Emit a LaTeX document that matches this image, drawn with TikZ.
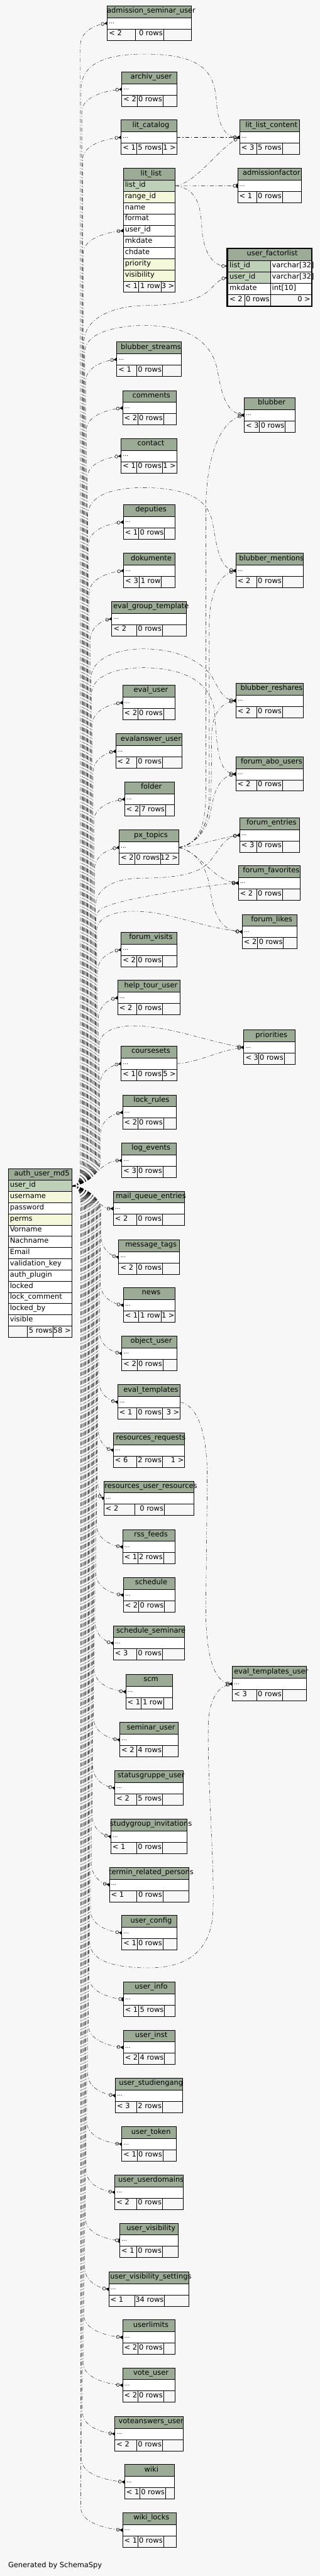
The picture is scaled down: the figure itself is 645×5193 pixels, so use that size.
\documentclass[tikz,border=0pt]{standalone}
\usepackage{fontspec}
\setmainfont{DejaVu Sans}
\usetikzlibrary{arrows.meta}
\definecolor{bgc}{HTML}{F7F7F7}
\definecolor{hdrc}{HTML}{9CAB96}
\definecolor{pkc}{HTML}{BED1B8}
\definecolor{idxc}{HTML}{F4F7DA}
\newcommand\fs{\fontsize{14.5}{16}\selectfont}
\newcommand\fsd{\fontsize{11.5}{13}\selectfont}
\pgfdeclarelayer{bglayer}
\pgfdeclarelayer{edgelayer}
\pgfsetlayers{bglayer,edgelayer,main}
\tikzset{
  cell/.style={draw=black,line width=0.9pt},
  ttl/.style={font=\fs,inner sep=0pt,outer sep=0pt,text height=9pt,text depth=4pt},
  rowbox/.style={draw=black,line width=0.9pt,minimum height=22.6pt,inner xsep=3.5pt,inner ysep=0pt,outer sep=0pt,anchor=north west,align=left,font=\fs,text height=9pt,text depth=4pt},
  dotrow/.style={rowbox,font=\fsd,text height=2pt,text depth=0pt,fill=white,minimum height=22.8pt},
  rel/.style={line width=0.5pt,dash pattern=on 8pt off 4pt on 1.5pt off 4pt,-{Circle[open,length=7pt,width=7pt,line width=0.7pt] Triangle[reversed,length=6pt,width=7pt]}},
  relone/.style={line width=0.5pt,dash pattern=on 8pt off 4pt on 1.5pt off 4pt,-{Circle[open,length=7pt,width=7pt,line width=0.7pt] Rectangle[length=2.5pt,width=8pt]}},
}
\begin{document}
\begin{tikzpicture}[x=1pt,y=-1pt]
\useasboundingbox (0,0) rectangle (645,5193);
\begin{pgfonlayer}{bglayer}
\fill[bgc] (0,0) rectangle (645,5193);
\end{pgfonlayer}

% ---------- simple tables ----------
\foreach \nm/\ti/\xl/\xr/\yt/\fa/\fb/\tA/\tB/\tC in {
adm/admission\_seminar\_user/216.4/385.4/11.7/273.5/329.5/{< 2}/{0 rows}/{},
arch/archiv\_user/245.6/356.2/144.7/276.4/328.3/{< 2}/{0 rows}/{},
litcat/lit\_catalog/244.3/356.2/241.7/275.6/327.4/{< 1}/{5 rows}/{1 >},
llc/lit\_list\_content/483.3/603.5/241.7/517.5/569.3/{< 3}/{5 rows}/{},
admf/admissionfactor/479.2/607.6/339.3/517.5/569.3/{< 1}/{0 rows}/{},
blstr/blubber\_streams/235.3/365.3/689.3/275.6/327.4/{< 1}/{0 rows}/{},
comm/comments/247.2/355.4/787.3/277.7/329.5/{< 2}/{0 rows}/{},
blub/blubber/492.4/595.2/801.7/523.2/575.1/{< 3}/{0 rows}/{},
cont/contact/244.3/356.2/884/275.6/327.4/{< 1}/{0 rows}/{1 >},
dep/deputies/248.5/352.5/1017.3/279.7/331.6/{< 1}/{0 rows}/{},
dok/dokumente/249.3/352.5/1115.3/280.5/325.4/{< 3}/{1 row}/{},
egt/eval\_group\_template/225.4/375.6/1212.3/275.6/327.4/{< 2}/{0 rows}/{},
blm/blubber\_mentions/475.5/611.7/1115.3/517.5/569.3/{< 2}/{0 rows}/{},
blr/blubber\_reshares/475.5/611.7/1377.3/517.5/569.3/{< 2}/{0 rows}/{},
evu/eval\_user/247.2/353.4/1381.3/277.7/329.5/{< 2}/{0 rows}/{},
eau/evalanswer\_user/233.2/367.3/1479.3/275.6/327.4/{< 2}/{0 rows}/{},
fabo/forum\_abo\_users/475.5/611.7/1525.3/517.5/569.3/{< 2}/{0 rows}/{},
fold/folder/251.3/351.3/1576/281.8/333.6/{< 2}/{7 rows}/{},
fent/forum\_entries/483.3/603.5/1648.3/517.5/569.3/{< 3}/{0 rows}/{},
pxt/px\_topics/240.2/360.3/1673.3/271.5/323.7/{< 2}/{0 rows}/{12 >},
ffav/forum\_favorites/480.5/605.5/1745/517.5/569.3/{< 2}/{0 rows}/{},
flik/forum\_likes/488.3/599.3/1843.3/519.5/571.4/{< 2}/{0 rows}/{},
fvis/forum\_visits/244.3/356.2/1879.3/275.6/327.4/{< 2}/{0 rows}/{},
htu/help\_tour\_user/237.3/363.2/1976.3/275.6/327.4/{< 2}/{0 rows}/{},
prio/priorities/491.6/595.2/2076.3/521.6/573/{< 3}/{0 rows}/{},
cset/coursesets/244.3/356.2/2109/275.6/327.4/{< 1}/{0 rows}/{5 >},
lock/lock\_rules/247.2/355.4/2207.3/277.7/329.5/{< 2}/{0 rows}/{},
loge/log\_events/245.6/355.4/2304.3/276.4/328.3/{< 3}/{0 rows}/{},
mqe/mail\_queue\_entries/228.3/372.3/2401.3/275.6/327.4/{< 2}/{0 rows}/{},
mtag/message\_tags/239.4/361.6/2499.3/275.6/327.4/{< 2}/{0 rows}/{},
news/news/248.5/353.4/2596/279.7/324.6/{< 1}/{1 row}/{1 >},
obj/object\_user/245.6/356.2/2693.3/276.4/328.3/{< 2}/{0 rows}/{},
evt/eval\_templates/237.3/363.2/2791.3/275.6/327.4/{< 1}/{0 rows}/{3 >},
rreq/resources\_requests/228.3/372.3/2888.3/275.6/327.4/{< 6}/{2 rows}/{1 >},
rur/resources\_user\_resources/209.4/391.2/2985.7/271.5/331.2/{< 2}/{0 rows}/{},
rss/rss\_feeds/247.2/353.4/3083.3/277.7/329.5/{< 1}/{2 rows}/{},
sch/schedule/248.5/353.4/3180.3/279.7/331.6/{< 2}/{0 rows}/{},
schs/schedule\_seminare/228.3/372.3/3277.3/275.6/327.4/{< 3}/{0 rows}/{},
scm/scm/253.4/347.6/3375.3/284.2/329.5/{< 1}/{1 row}/{},
etu/eval\_templates\_user/468.5/617.4/3359.3/517.5/569.3/{< 3}/{0 rows}/{},
semu/seminar\_user/241.5/359.5/3472.3/275.6/327.4/{< 2}/{4 rows}/{},
sgu/statusgruppe\_user/231.6/369.4/3569.3/275.6/327.4/{< 2}/{5 rows}/{},
sgi/studygroup\_invitations/223.4/377.2/3667.3/275.6/327.4/{< 1}/{0 rows}/{},
trp/termin\_related\_persons/220.5/381.3/3764.3/275.6/328.3/{< 1}/{0 rows}/{},
ucfg/user\_config/245.6/356.2/3861.3/276.4/328.3/{< 1}/{0 rows}/{},
uinfo/user\_info/248.5/353.4/3995.3/279.7/331.6/{< 1}/{5 rows}/{},
uinst/user\_inst/248.5/353.4/4092.3/279.7/331.6/{< 2}/{4 rows}/{},
ustud/user\_studiengang/232.4/368.6/4189.3/275.6/327.4/{< 3}/{2 rows}/{},
utok/user\_token/245.6/355.4/4287.3/276.4/328.3/{< 1}/{0 rows}/{},
udom/user\_userdomains/231.6/369.4/4384.3/275.6/327.4/{< 2}/{0 rows}/{},
uvis/user\_visibility/241.5/359.5/4481.7/275.6/327.4/{< 1}/{0 rows}/{},
uvs/user\_visibility\_settings/219.3/381.3/4579.7/271.5/331.6/{< 1}/{34 rows}/{},
ulim/userlimits/247.2/353.4/4676.7/277.7/329.5/{< 2}/{0 rows}/{},
vote/vote\_user/247.2/353.4/4773.3/277.7/329.5/{< 2}/{0 rows}/{},
vans/voteanswers\_user/231.6/369.4/4871.3/275.6/327.4/{< 2}/{0 rows}/{},
wiki/wiki/251.3/351.3/4968.3/281.8/333.6/{< 1}/{0 rows}/{},
wlock/wiki\_locks/247.2/355.4/5065.3/277.7/329.5/{< 1}/{0 rows}/{}%
}{
  \pgfmathsetmacro\ya{\yt+23.8}
  \pgfmathsetmacro\yb{\yt+46.6}
  \pgfmathsetmacro\yc{\yt+69.4}
  \pgfmathsetmacro\yh{\yt+11.9}
  \pgfmathsetmacro\yf{\yt+58}
  \pgfmathsetmacro\xm{(\xl+\xr)/2+4}
  \pgfmathsetmacro\w{\xr-\xl}
  \pgfmathsetmacro\tw{\xr-\xl-7}
  \filldraw[cell,fill=hdrc] (\xl,\yt) rectangle (\xr,\ya);
  \node[ttl] (\nm) at (\xm,\yh) {\ti};
  \node[dotrow,minimum width=\w pt,text width=\tw pt] (\nm-r) at (\xl,\ya) {...};
  \filldraw[cell,fill=bgc] (\xl,\yb) rectangle (\fa,\yc);
  \filldraw[cell,fill=bgc] (\fa,\yb) rectangle (\fb,\yc);
  \filldraw[cell,fill=bgc] (\fb,\yb) rectangle (\xr,\yc);
  \node[ttl,anchor=west] (\nm-fa) at (\xl+3.5,\yf) {\tA};
  \node[ttl,anchor=east] (\nm-fb) at (\fb-1.5,\yf) {\tB};
  \node[ttl,anchor=east] (\nm-fc) at (\xr-1.5,\yf) {\tC};
}

% ---------- lit_list ----------
\filldraw[cell,fill=hdrc] (248.5,339.3) rectangle (353,363.3);
\node[ttl] (ll) at (304.7,351.3) {lit\_list};
\foreach \rid/\lab/\col [count=\cnt from 0] in {id/list\_id/pkc, rg/range\_id/idxc, nm/name/white, fm/format/white, u/user\_id/white, mk/mkdate/white, ch/chdate/white, pr/priority/idxc, vi/visibility/idxc}
  \node[rowbox,fill=\col,minimum width=104.5pt,text width=97.5pt] (ll-\rid) at (248.5,{363.3+22.6*\cnt}) {\lab};
\filldraw[cell,fill=bgc] (248.5,566.7) rectangle (279.7,589.3);
\filldraw[cell,fill=bgc] (279.7,566.7) rectangle (324.6,589.3);
\filldraw[cell,fill=bgc] (324.6,566.7) rectangle (353,589.3);
\node[ttl,anchor=west] (ll-fa) at (252,578.3) {< 1};
\node[ttl,anchor=east] (ll-fb) at (323.1,578.3) {1 row};
\node[ttl,anchor=east] (ll-fc) at (351.5,578.3) {3 >};

% ---------- user_factorlist ----------
\filldraw[cell,fill=hdrc] (459.5,501.7) rectangle (627.5,525);
\node[ttl] (ufl) at (549,513.4) {user\_factorlist};
\node[rowbox,fill=pkc,minimum width=85.5pt,text width=78.5pt,minimum height=22.8pt] (ufl-l) at (459.5,525) {list\_id};
\node[rowbox,fill=pkc,minimum width=85.5pt,text width=78.5pt,minimum height=22.8pt] (ufl-u) at (459.5,547.8) {user\_id};
\node[rowbox,fill=white,minimum width=85.5pt,text width=78.5pt,minimum height=22.8pt] (ufl-m) at (459.5,570.6) {mkdate};
\filldraw[cell,fill=white] (545,525) rectangle (627.5,547.8);
\filldraw[cell,fill=white] (545,547.8) rectangle (627.5,570.6);
\filldraw[cell,fill=white] (545,570.6) rectangle (627.5,593.4);
\node[ttl,anchor=west] (ufl-lt) at (548.5,536.4) {varchar[32]};
\node[ttl,anchor=west] (ufl-ut) at (548.5,559.2) {varchar[32]};
\node[ttl,anchor=west] (ufl-mt) at (548.5,582) {int[10]};
\filldraw[cell,fill=bgc] (459.5,593.4) rectangle (493,616.7);
\filldraw[cell,fill=bgc] (493,593.4) rectangle (545,616.7);
\filldraw[cell,fill=bgc] (545,593.4) rectangle (627.5,616.7);
\node[ttl,anchor=west] (ufl-fa) at (463,605) {< 2};
\node[ttl,anchor=east] (ufl-fb) at (543.5,605) {0 rows};
\node[ttl,anchor=east] (ufl-fc) at (626,605) {0 >};
\draw[line width=2.6pt] (458.2,500.4) rectangle (628.8,618);

% ---------- auth_user_md5 ----------
\filldraw[cell,fill=hdrc] (16.5,2355.7) rectangle (144.4,2379.3);
\node[ttl] (auth) at (84.5,2367.5) {auth\_user\_md5};
\foreach \rid/\lab/\col [count=\cnt from 0] in {u/user\_id/pkc, un/username/idxc, pw/password/white, pe/perms/idxc, vn/Vorname/white, nn/Nachname/white, em/Email/white, vk/validation\_key/white, ap/auth\_plugin/white, lk/locked/white, lc/lock\_comment/white, lb/locked\_by/white, vi/visible/white}
  \node[rowbox,fill=\col,minimum width=127.9pt,text width=120.9pt] (auth-\rid) at (16.5,{2379.3+22.6*\cnt}) {\lab};
\filldraw[cell,fill=bgc] (16.5,2673.1) rectangle (55.5,2696.1);
\filldraw[cell,fill=bgc] (55.5,2673.1) rectangle (107.4,2696.1);
\filldraw[cell,fill=bgc] (107.4,2673.1) rectangle (144.4,2696.1);
\node[ttl,anchor=east] (auth-fb) at (105.9,2684.6) {5 rows};
\node[ttl,anchor=east] (auth-fc) at (142.9,2684.6) {58 >};

\node[ttl,anchor=west] (gen) at (16.5,5173) {Generated by SchemaSpy};

% ---------- edges ----------
\begin{pgfonlayer}{edgelayer}
% auth -> left tables above
\foreach \nm/\x/\y/\lane in {adm/216.4/46.9/162, arch/245.6/179.9/165, litcat/244.3/276.9/166.5, blstr/235.3/724.5/172.5, comm/247.2/822.5/174, cont/244.3/919.2/175.5, dep/248.5/1052.5/178.5, dok/249.3/1150.5/180, egt/225.4/1247.5/181.5, evu/247.2/1416.5/186, eau/233.2/1514.5/187.5, fold/251.3/1611.2/189, pxt/240.2/1708.5/190.5, fvis/244.3/1914.5/196.5, htu/237.3/2011.5/198, cset/244.3/2144.2/201, lock/247.2/2242.5/202.5}
  \draw[rel] (auth-u.east) .. controls (162,2390.6) and (\lane,2372) .. (\lane,2340) -- (\lane,{\y+45}) .. controls (\lane,{\y+18}) and ({(\lane+\x)/2},{\y+4}) .. (\nm-r.west);
% auth -> left tables below
\foreach \nm/\x/\y/\lane in {wlock/247.2/5100.5/163, wiki/251.3/5003.5/164.5, vans/231.6/4906.5/166, vote/247.2/4808.5/167.5, ulim/247.2/4711.9/169, uvs/219.3/4614.9/170.5, udom/231.6/4419.5/173.5, utok/245.6/4322.5/175, ustud/232.4/4224.5/176.5, uinst/248.5/4127.5/178, ucfg/245.6/3896.5/182.5, trp/220.5/3799.5/184, sgi/223.4/3702.5/185.5, sgu/231.6/3604.5/187, semu/241.5/3507.5/188.5, scm/253.4/3410.5/190, schs/228.3/3312.5/191.5, sch/248.5/3215.5/193, rss/247.2/3118.5/194.5, rur/209.4/3020.9/196, rreq/228.3/2923.5/197.5, evt/237.3/2826.5/199, obj/245.6/2728.5/200.5, news/248.5/2631.2/202, mtag/239.4/2534.5/203.5}
  \draw[rel] (auth-u.east) .. controls (162,2390.6) and (\lane,2409) .. (\lane,2441) -- (\lane,{\y-45}) .. controls (\lane,{\y-18}) and ({(\lane+\x)/2},{\y-4}) .. (\nm-r.west);
\foreach \nm/\x/\y/\lane in {uvis/241.5/4516.9/172, uinfo/248.5/4030.5/179.5}
  \draw[relone] (auth-u.east) .. controls (162,2390.6) and (\lane,2409) .. (\lane,2441) -- (\lane,{\y-45}) .. controls (\lane,{\y-18}) and ({(\lane+\x)/2},{\y-4}) .. (\nm-r.west);
\draw[rel] (auth-u.east) .. controls (185,2390.6) and (200,2339.5) .. (loge-r.west);
\draw[rel] (auth-u.east) .. controls (185,2390.6) and (195,2436.5) .. (mqe-r.west);
\draw[rel] (auth-u.east) .. controls (162,2390.6) and (168,2372) .. (168,2340) -- (168,510) .. controls (168,483) and (210,469) .. (ll-u.west);
% auth -> right-hand tables
\draw[rel] (auth-u.east) .. controls (162,2390.6) and (163.5,2372) .. (163.5,2340) -- (163.5,180) .. controls (163.5,125) and (220,109) .. (290,109) .. controls (400,109) and (432,140) .. (436,200) .. controls (439,245) and (450,276.9) .. (llc-r.west);
\draw[rel] (auth-u.east) .. controls (162,2390.6) and (169.5,2372) .. (169.5,2340) -- (169.5,690) .. controls (169.5,640) and (230,617) .. (290,616) .. controls (360,615) and (400,605) .. (422,585) .. controls (435,573) and (442,563) .. (ufl-u.west);
\draw[rel] (auth-u.east) .. controls (162,2390.6) and (171,2372) .. (171,2340) -- (171,710) .. controls (171,670) and (235,657) .. (290,656) .. controls (380,656) and (425,690) .. (437,740) .. controls (446,785) and (452,830) .. (blub-r.west);
\draw[rel] (auth-u.east) .. controls (162,2390.6) and (177,2372) .. (177,2340) -- (177,1040) .. controls (177,995) and (235,983) .. (290,983) .. controls (385,984) and (418,1010) .. (428,1050) .. controls (436,1090) and (440,1145) .. (blm-r.west);
\draw[rel] (auth-u.east) .. controls (162,2390.6) and (183,2372) .. (183,2340) -- (183,1370) .. controls (183,1325) and (240,1308) .. (290,1308) .. controls (370,1309) and (412,1340) .. (428,1365) .. controls (442,1390) and (450,1410) .. (blr-r.west);
\draw[rel] (auth-u.east) .. controls (162,2390.6) and (184.5,2372) .. (184.5,2340) -- (184.5,1400) .. controls (184.5,1360) and (240,1346) .. (290,1346) .. controls (380,1347) and (424,1380) .. (432,1430) .. controls (438,1480) and (434,1556) .. (fabo-r.west);
\draw[rel] (auth-u.east) .. controls (162,2390.6) and (192,2372) .. (192,2340) -- (192,1830) .. controls (192,1790) and (230,1770) .. (290,1770) .. controls (360,1770) and (400,1760) .. (420,1740) .. controls (440,1718) and (450,1688) .. (fent-r.west);
\draw[rel] (auth-u.east) .. controls (162,2390.6) and (193.5,2372) .. (193.5,2340) -- (193.5,1850) .. controls (193.5,1830) and (220,1822) .. (290,1808) .. controls (380,1792) and (430,1783) .. (ffav-r.west);
\draw[rel] (auth-u.east) .. controls (162,2390.6) and (195,2372) .. (195,2340) -- (195,1875) .. controls (195,1850) and (230,1837) .. (270,1837) .. controls (340,1837) and (400,1868) .. (flik-r.west);
\draw[rel] (auth-u.east) .. controls (162,2390.6) and (199.5,2372) .. (199.5,2340) -- (199.5,2110) .. controls (199.5,2080) and (230,2068) .. (270,2068) .. controls (340,2068) and (420,2100) .. (prio-r.west);
\draw[rel] (auth-u.east) .. controls (162,2390.6) and (181,2409) .. (181,2441) -- (181,3915) .. controls (181,3960) and (250,3967) .. (300,3967) .. controls (380,3967) and (420,3930) .. (428,3870) .. controls (436,3800) and (418,3600) .. (420,3480) .. controls (421,3425) and (440,3400) .. (etu-r.west);
% px_topics
\draw[rel] (pxt-r.east) .. controls (395,1702) and (415,1675) .. (415,1600) -- (415,1030) .. controls (415,930) and (440,850) .. (blub-r.west);
\draw[rel] (pxt-r.east) .. controls (398,1702) and (422,1670) .. (422,1600) -- (422,1260) .. controls (422,1200) and (440,1160) .. (blm-r.west);
\draw[rel] (pxt-r.east) .. controls (400,1702) and (426,1660) .. (426,1580) -- (427,1480) .. controls (428,1440) and (445,1418) .. (blr-r.west);
\draw[rel] (pxt-r.east) .. controls (390,1702) and (418,1680) .. (426,1630) .. controls (432,1595) and (442,1567) .. (fabo-r.west);
\draw[rel] (pxt-r.east) .. controls (400,1705) and (440,1690) .. (fent-r.west);
\draw[rel] (pxt-r.east) .. controls (400,1715) and (430,1775) .. (ffav-r.west);
\draw[rel] (pxt-r.east) .. controls (405,1720) and (420,1760) .. (425,1800) .. controls (432,1850) and (450,1876) .. (flik-r.west);
% others
\draw[rel] (cset-r.east) .. controls (400,2142) and (440,2118) .. (prio-r.west);
\draw[rel] (evt-r.east) .. controls (395,2832) and (418,2880) .. (418,2980) -- (415,3250) .. controls (416,3360) and (440,3392) .. (etu-r.west);
\draw[rel] (litcat-r.east) -- (llc-r.west);
\draw[rel] (ll-id.east) .. controls (395,370) and (440,300) .. (llc-r.west);
\draw[relone] (ll-id.east) -- (admf-r.west);
\draw[rel] (ll-id.east) .. controls (400,380) and (405,420) .. (407,460) .. controls (410,510) and (430,536) .. (ufl-l.west);
\end{pgfonlayer}
\end{tikzpicture}
\end{document}
